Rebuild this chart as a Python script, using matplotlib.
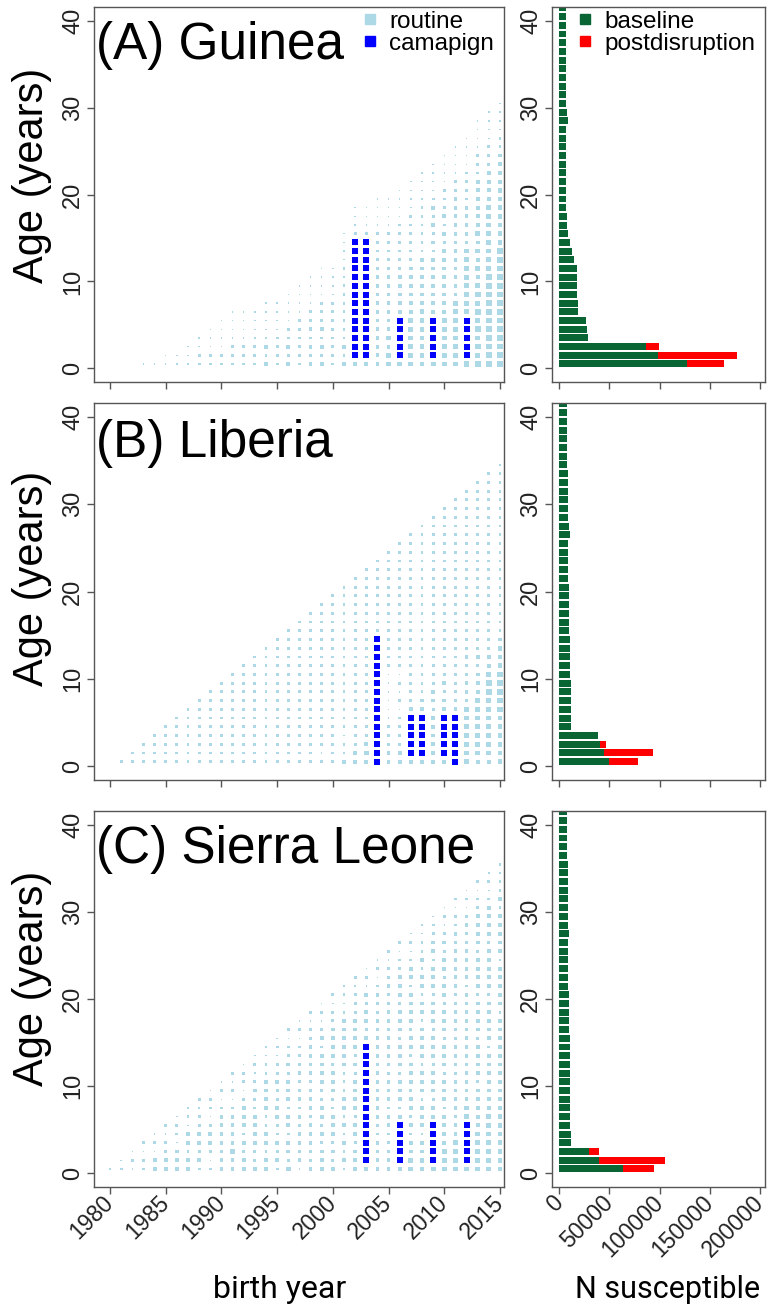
import matplotlib
matplotlib.use("Agg")
import matplotlib.pyplot as plt
from matplotlib.lines import Line2D

# ---------------------------
# data
# ---------------------------

# routine coverage grid: one string per birth year, char k = size level at age k (0 = none)
gn_first_year = 1981
gn_levels = [
    "", "", "1", "1", "11", "11", "211", "2211",
    "22111", "221111", "2221111", "2221111", "2221111",
    "32321111", "22221111", "323221111", "2222221111",
    "32323221111", "323232221111", "222222221111",
    "3232" "22222" "2121" "111",
    "3" "33333333333333" "2" "111",
    "3" "33333333333333" "2" "111",
    "33333" "333333" "22222" "1111",
    "4434333333322222" "1111",
    "444444" "33333" "222222" "1111",
    "444444" "333333" "222222" "1111",
    "4444444" "333333" "222222" "1111",
    "444444" "3333333" "232323" "2" "1111",
    "444444" "3333333" "3232322" "2" "1111",
    "44444444" "3333333" "33333" "22" "1111",
    "5" "44444" "44444444" "33333" "2222" "1111",
    "545454545" "43434343" "33333" "222" "1111",
    "55555555555" "44444444" "3333" "222" "1111",
    "55555555555555" "4444444" "3333" "22" "1111",
]
gn_camp_years = [2002, 2003, 2006, 2009, 2012]
gn_camp_lo = [1, 1, 1, 1, 1]
gn_camp_hi = [14, 14, 5, 5, 5]

lr_first_year = 1981
lr_levels = [
    "2", "22", "222", "2222", "22222", "222222", "2222222", "22222222",
    "222222222", "2222222222", "22222222222", "222222222222", "2222222222222",
    "22222222222222", "222222222222222", "2222222222222222", "22222222222222222",
    "222222222222222222",
    "2122222222" "222222222",
    "2222222222" "2222222222",
    "3221222222" "22222222222",
    "3322222222" "222222222222",
    "3432222222" "2222222222222",
    "2222222222" "2222222222" "2222",
    "33222" "111111" "22222222222222",
    "33222" "212121" "222222222222222",
    "333333" "3" "22222222222222222222",
    "333333" "33" "22222222222222222222",
    "333333" "2" "33" "22222222222222222222",
    "333333" "3323" "22222222222222222222",
    "333333" "33" "22" "222222222222222222222",
    "4444444" "3333" "23" "2222222222222222222",
    "34444444" "333" "23" "22222222222222222222",
    "3" "4444444" "55" "4" "33" "222222222222222222222",
    "444444" "55555" "444" "3" "22222222222222222222",
]
lr_camp_years = [2004, 2007, 2008, 2010, 2011]
lr_camp_lo = [0, 1, 1, 1, 0]
lr_camp_hi = [14, 5, 5, 5, 5]

sl_first_year = 1980
sl_levels = [
    "2", "21", "121", "2212", "33121", "332212", "3331221", "33233121",
    "232332212", "2123321221", "33233332121", "334333321212", "3323233321221",
    "32233332232121", "332332233332212", "2323223322322121", "42332332333232212",
    "132332323323322121", "3233332333232332212", "33323233223333232121",
    "323233322333233332212", "2323232332223333332121", "33323323333232333322212",
    "3" "33333333333333" "323323121",
    "3333223332333333232332121",
    "33322332333223332333232212",
    "3" "33333" "323332333233323332212",
    "4433232332" "3332332333" "32332121",
    "4433233323" "3323333233" "233232212",
    "4" "33333" "3323332333" "2333233323" "3221",
    "4443333233" "3233323332" "33233232121",
    "4444332333" "3233323333" "233333232212",
    "4" "44444" "4433332333" "2333323333" "3232121",
    "4444433333" "2333323333" "2333323333" "2212",
    "4444444333" "3333233333" "2333332333" "32121",
    "4444444433" "3333333323" "3333233333" "232212",
]
sl_camp_years = [2003, 2006, 2009, 2012]
sl_camp_lo = [1, 1, 1, 1]
sl_camp_hi = [14, 5, 5, 5]

# susceptibles by age (0..41)
bar_ages = list(range(42))
gn_baseline = [126800, 98000, 86000, 28500, 27500, 26500, 18900, 18200, 17500, 17500,
               17200, 17500, 14900, 12900, 10600, 8300, 7600, 7300, 7000, 7000,
               7000, 6900, 6900, 6900, 6900, 6900, 6900, 7000, 8600, 7600,
               7000, 6900, 6900, 6900, 6900, 6900, 6900, 6900, 6900, 6900,
               6900, 6900]
gn_post = [164200, 177400, 99600]
lr_baseline = [49700, 45000, 40700, 38400, 11900, 11600, 11600, 11600, 11600, 11300,
               10900, 10900, 10600, 10300, 10300, 9900, 9300, 9300, 9300, 9300,
               9300, 8600, 8600, 8600, 8600, 8600, 10300, 9900, 8600, 8600,
               8600, 8600, 8600, 8600, 7600, 7600, 7600, 7600, 7600, 7600,
               7600, 7600]
lr_post = [78100, 93300, 46300]
sl_baseline = [63900, 40000, 29100, 11600, 11300, 10900, 10900, 10900, 10900, 10900,
               10900, 10600, 10600, 10600, 10600, 10600, 9900, 9900, 9900, 9900,
               9900, 8600, 8600, 8600, 8600, 8600, 8600, 9900, 8300, 8300,
               8300, 8300, 8300, 8300, 8300, 8300, 7600, 7600, 7600, 7600,
               7600, 7600]
sl_post = [94700, 105300, 39700]

titles = ["(A) Guinea", "(B) Liberia", "(C) Sierra Leone"]
year_ticks = [1980, 1985, 1990, 1995, 2000, 2005, 2010, 2015]
n_ticks = [0, 50000, 100000, 150000, 200000]
age_ticks = [0, 10, 20, 30, 40]

# ---------------------------
# styling
# ---------------------------
ROUTINE = "#ADD8E6"
CAMPAIGN = "#0000FF"
BASE = "#0A6534"
POST = "#FF0000"
FRAME = "#555555"
PX = 0.72  # points per pixel at dpi 100
level_px = {1: 1.4, 2: 2.8, 3: 3.8, 4: 4.8, 5: 5.6}
camp_px = 6.4

plt.rcParams["font.family"] = ["Liberation Sans", "DejaVu Sans"]

fig = plt.figure(figsize=(7.7, 13.16), dpi=100)
W, H = 770.0, 1316.0
rows = [(7.1, 382.2), (403.0, 780.0), (811.0, 1187.2)]  # top, bottom in px
ylab_centers = [175, 578, 978]
title_base = [0.861, 0.856, 0.863]
left_x, left_w = 94 / W, 410 / W
right_x, right_w = 552 / W, 213 / W

panels = [
    (gn_first_year, gn_levels, gn_camp_years, gn_camp_lo, gn_camp_hi, gn_baseline, gn_post),
    (lr_first_year, lr_levels, lr_camp_years, lr_camp_lo, lr_camp_hi, lr_baseline, lr_post),
    (sl_first_year, sl_levels, sl_camp_years, sl_camp_lo, sl_camp_hi, sl_baseline, sl_post),
]


def style_axes(ax):
    for sp in ax.spines.values():
        sp.set_color(FRAME)
        sp.set_linewidth(1.0)
    ax.tick_params(direction="out", length=5, width=1, color=FRAME,
                   labelcolor="#222222", labelsize=17, pad=2)
    ax.set_yticks(age_ticks)
    plt.setp(ax.get_yticklabels(), rotation=90, va="center")
    ax.set_ylim(-1.6, 41.6)


for r, (first_year, levels, cy, clo, chi, base, post) in enumerate(panels):
    top, bot = rows[r]
    axl = fig.add_axes([left_x, 1 - bot / H, left_w, (bot - top) / H])
    axr = fig.add_axes([right_x, 1 - bot / H, right_w, (bot - top) / H])

    # ---- routine grid ----
    xs, ys, ss = [], [], []
    for k, col in enumerate(levels):
        year = first_year + k
        for age, ch in enumerate(col[:k + 1]):
            lv = int(ch)
            if lv == 0:
                continue
            xs.append(year)
            ys.append(age + 0.5)
            ss.append((level_px[lv] * PX) ** 2)
    axl.scatter(xs, ys, s=ss, marker="s", c=ROUTINE, linewidths=0)

    # ---- campaign cells ----
    cx, cyy = [], []
    for yr, lo, hi in zip(cy, clo, chi):
        for age in range(lo, hi + 1):
            cx.append(yr)
            cyy.append(age + 0.5)
    axl.scatter(cx, cyy, s=(camp_px * PX) ** 2, marker="s", c=CAMPAIGN, linewidths=0)

    axl.set_xlim(1978.56, 2015.36)
    axl.set_xticks(year_ticks)
    style_axes(axl)
    axl.text(0.006, title_base[r], titles[r], transform=axl.transAxes,
             fontsize=37, ha="left", va="baseline", color="black")

    # ---- susceptible bars ----
    ypos = [a + 0.5 for a in bar_ages]
    axr.barh(ypos[:len(post)], post, height=0.8, color=POST, linewidth=0)
    axr.barh(ypos, base, height=0.8, color=BASE, linewidth=0)
    axr.set_xlim(-7300, 205000)
    axr.set_xticks(n_ticks)
    style_axes(axr)

    if r < 2:
        axl.set_xticklabels([])
        axr.set_xticklabels([])
    else:
        axl.set_xticklabels([str(t) for t in year_ticks])
        axr.set_xticklabels([str(t) for t in n_ticks])
        for ax in (axl, axr):
            ax.tick_params(axis="x", labelsize=16.5, pad=4)
            plt.setp(ax.get_xticklabels(), rotation=45, ha="right", va="center",
                     rotation_mode="anchor")

    fig.text(32 / W, 1 - ylab_centers[r] / H, "Age (years)", rotation=90,
             ha="center", va="center", fontsize=30)

    if r == 0:
        h1 = [Line2D([], [], marker="s", ls="", color=ROUTINE, ms=6.5),
              Line2D([], [], marker="s", ls="", color=CAMPAIGN, ms=6.5)]
        axl.legend(h1, ["routine", "camapign"], loc="upper left",
                   bbox_to_anchor=(0.655, 0.99), frameon=False, fontsize=17.5,
                   borderpad=0, borderaxespad=0, handlelength=0.6,
                   handletextpad=0.5, labelspacing=0.0)
        h2 = [Line2D([], [], marker="s", ls="", color=BASE, ms=6.5),
              Line2D([], [], marker="s", ls="", color=POST, ms=6.5)]
        axr.legend(h2, ["baseline", "postdisruption"], loc="upper left",
                   bbox_to_anchor=(0.12, 0.99), frameon=False, fontsize=17.5,
                   borderpad=0, borderaxespad=0, handlelength=0.6,
                   handletextpad=0.5, labelspacing=0.0)

fig.text(280 / W, 1 - 1290 / H, "birth year", ha="center", va="center",
         fontsize=23, family=["Roboto", "DejaVu Sans"])
fig.text(668 / W, 1 - 1290 / H, "N susceptible", ha="center", va="center",
         fontsize=22, family=["Roboto", "DejaVu Sans"])

fig.savefig("out.png", dpi=100)
